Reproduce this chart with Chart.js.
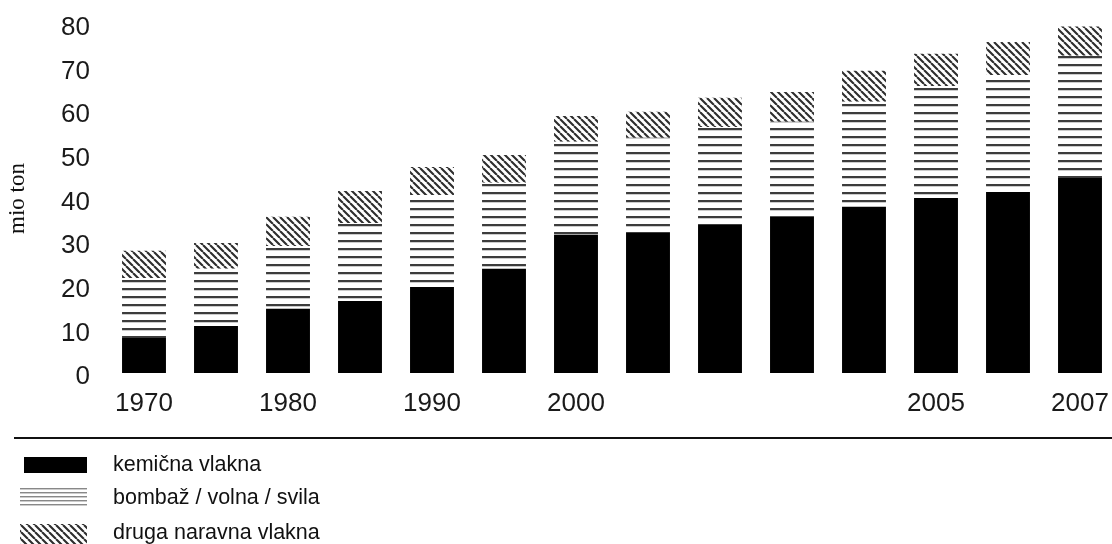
<!DOCTYPE html>
<html><head><meta charset="utf-8">
<script src="https://cdn.jsdelivr.net/npm/chart.js@4"></script>
<style>
html,body{margin:0;padding:0;background:#fff;overflow:hidden;}
#wrap{position:relative;width:1116px;height:544px;}
</style></head><body>
<div id="wrap"><canvas id="c" width="1116" height="544"></canvas></div>
<script>
const categories = ['1970','1975','1980','1985','1990','1995','2000','2001','2002','2003','2004','2005','2006','2007'];
const tickLabels = ['1970','','1980','','1990','','2000','','','','','2005','','2007'];
const chemicalFibres = [8.0,10.8,14.7,16.5,19.7,23.9,31.7,32.1,33.9,35.8,38.1,40.1,41.5,44.7];
const cottonWoolSilk = [13.8,13.1,14.4,17.9,21.1,19.7,21.3,21.8,22.5,21.8,24.1,25.7,26.8,28.0];
const otherNatural = [6.2,5.9,6.7,7.3,6.4,6.4,5.9,6.0,6.7,6.8,7.1,7.4,7.6,6.7];
const seriesNames = ['kemična vlakna','bombaž / volna / svila','druga naravna vlakna'];
const axisTitle = 'mio ton';

function stripePattern(period, thick, color) {
  const c = document.createElement('canvas');
  c.width = 8; c.height = period;
  const x = c.getContext('2d');
  x.fillStyle = '#fff'; x.fillRect(0,0,8,period);
  x.fillStyle = color; x.fillRect(0,0,8,thick);
  x.fillStyle = 'rgba(0,0,0,0.2)'; x.fillRect(0,thick,8,1);
  return x.createPattern(c,'repeat');
}
function hatchPattern(s, lw, color) {
  const c = document.createElement('canvas');
  c.width = s; c.height = s;
  const x = c.getContext('2d');
  x.fillStyle = '#fff'; x.fillRect(0,0,s,s);
  x.strokeStyle = color; x.lineWidth = lw;
  x.beginPath();
  for (let k=-1;k<=1;k++){ x.moveTo(k*s,0); x.lineTo(k*s+s,s); }
  x.stroke();
  return x.createPattern(c,'repeat');
}
const stripeFill = stripePattern(8, 2, '#3c3c3c');
const stripeLegend = stripePattern(4, 1, '#888');
const hatchFill = hatchPattern(7, 2.1, '#2e2e2e');

const legendPlugin = {
  id: 'customLegend',
  afterDraw(chart) {
    const ctx = chart.ctx;
    ctx.save();
    ctx.strokeStyle = '#111'; ctx.lineWidth = 2;
    ctx.beginPath(); ctx.moveTo(14, 438); ctx.lineTo(1116, 438); ctx.stroke();
    const rows = [{x:24,y:457,w:63,h:16,t:465},{x:20,y:488,w:67,h:19,t:498},{x:20,y:524,w:67,h:20,t:533}];
    chart.data.datasets.forEach((ds, i) => {
      const r = rows[i];
      ctx.fillStyle = ds.legendFill || ds.backgroundColor;
      ctx.fillRect(r.x, r.y, r.w, r.h);
      ctx.fillStyle = '#111';
      ctx.font = '21.5px "Liberation Sans", Arial, sans-serif';
      ctx.textBaseline = 'middle';
      ctx.fillText(ds.label, 113, r.t);
    });
    ctx.restore();
  }
};

new Chart(document.getElementById('c'), {
  type: 'bar',
  data: {
    labels: categories,
    datasets: [
      { label: seriesNames[0], data: chemicalFibres, backgroundColor: '#000', legendFill: '#000' },
      { label: seriesNames[1], data: cottonWoolSilk, backgroundColor: stripeFill, legendFill: stripeLegend },
      { label: seriesNames[2], data: otherNatural, backgroundColor: hatchFill, legendFill: hatchFill }
    ]
  },
  options: {
    responsive: false,
    animation: false,
    layout: { padding: { top: 24, left: 0, right: 0, bottom: 109.8 } },
    datasets: { bar: { categoryPercentage: 1, barPercentage: 0.61, borderWidth: 0 } },
    plugins: { legend: { display: false }, tooltip: { enabled: false } },
    scales: {
      x: {
        stacked: true,
        grid: { display: false, drawTicks: false },
        border: { display: false },
        ticks: {
          autoSkip: false, maxRotation: 0, padding: 15, color: '#1a1a1a',
          font: { family: '"Liberation Sans", Arial, sans-serif', size: 26 },
          callback: (v, i) => tickLabels[i]
        },
        afterFit: (s) => { s.paddingLeft = 0; s.paddingRight = 0; }
      },
      y: {
        stacked: true, min: 0, max: 80,
        grid: { display: false, drawTicks: false },
        border: { display: false },
        ticks: {
          stepSize: 10, padding: 18, labelOffset: 4, color: '#1a1a1a',
          font: { family: '"Liberation Sans", Arial, sans-serif', size: 26 }
        },
        title: {
          display: true, text: axisTitle, color: '#111',
          font: { family: '"Liberation Serif", "Times New Roman", serif', size: 23 },
          padding: { top: 4, bottom: 0 }
        },
        afterFit: (s) => { s.width = 108; s.paddingTop = 0; s.paddingBottom = 0; }
      }
    }
  },
  plugins: [legendPlugin]
});
</script>
</body></html>
